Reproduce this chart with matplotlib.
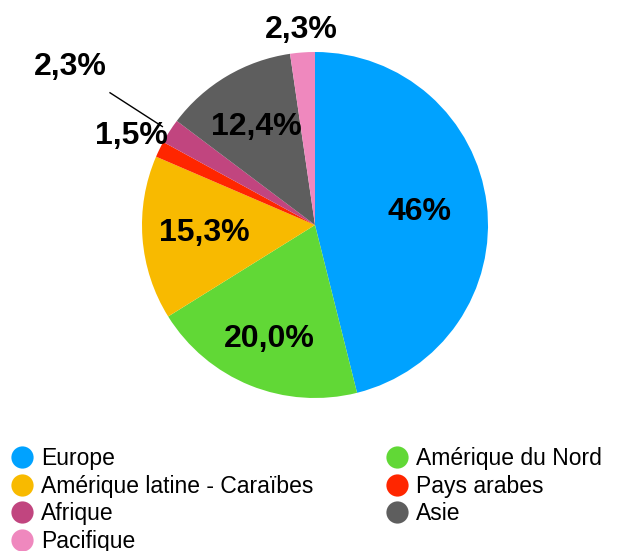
import numpy as np
import matplotlib
matplotlib.use('Agg')
import matplotlib.pyplot as plt
from matplotlib.lines import Line2D

plt.rcParams['font.family'] = ['Liberation Sans', 'DejaVu Sans']

# Share by region (%), clockwise from the top
regions = ['Europe', 'Amérique du Nord', 'Amérique latine - Caraïbes',
           'Pays arabes', 'Afrique', 'Asie', 'Pacifique']
shares = [46.0, 20.0, 15.3, 1.5, 2.3, 12.4, 2.3]
labels = ['46%', '20,0%', '15,3%', '1,5%', '2,3%', '12,4%', '2,3%']
colors = ['#00A2FF', '#61D836', '#F8BA00', '#FF2600', '#C1457F', '#5E5E5E', '#EF88BE']

# radial position of each label (1 = rim)
label_r = [0.61, 0.71, 0.64, 1.18, 1.68, 0.66, 1.13]

fig = plt.figure(figsize=(6.17, 5.51), dpi=100)
ax = fig.add_axes([142 / 617, 1 - 398 / 551, 346 / 617, 346 / 551])

wedges, _ = ax.pie(shares, colors=colors, startangle=90, counterclock=False,
                   radius=1.0, wedgeprops=dict(linewidth=0))
ax.set_xlim(-1, 1)
ax.set_ylim(-1, 1)
ax.set_aspect('equal')
ax.axis('off')

for w, lab, r in zip(wedges, labels, label_r):
    mid = np.deg2rad((w.theta1 + w.theta2) / 2)
    x, y = r * np.cos(mid), r * np.sin(mid)
    ax.text(x, y, lab, ha='center', va='center', fontsize=23,
            fontweight='bold', clip_on=False)

# leader line for the small Afrique slice
afr = wedges[4]
mid = np.deg2rad((afr.theta1 + afr.theta2) / 2)
ax.plot([1.05 * np.cos(mid), 1.41 * np.cos(mid)],
        [1.05 * np.sin(mid), 1.41 * np.sin(mid)],
        color='black', linewidth=1, clip_on=False)

# legend: two columns, filled left column first
order = [0, 2, 4, 6, 1, 3, 5]
handles = [Line2D([], [], marker='o', linestyle='none', markersize=16,
                  markerfacecolor=colors[i], markeredgewidth=0) for i in order]
fig.legend(handles, [regions[i] for i in order], ncol=2, frameon=False,
           loc='upper left', bbox_to_anchor=(0.002, 1 - 438 / 551),
           fontsize=16.5, handlelength=1.0, handletextpad=0.35,
           columnspacing=3.13, labelspacing=0.2, borderaxespad=0)

fig.savefig('out.png', dpi=100)
